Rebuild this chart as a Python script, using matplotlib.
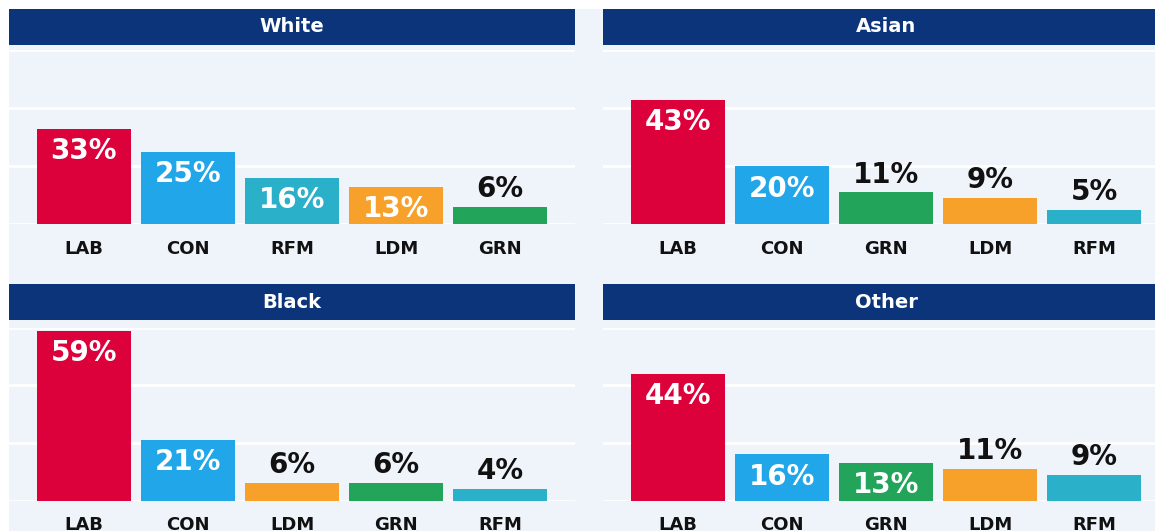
import matplotlib
matplotlib.use("Agg")
import matplotlib.pyplot as plt
from matplotlib.patches import Rectangle

# Vote share by ethnicity

white_parties = ["LAB", "CON", "RFM", "LDM", "GRN"]
white_values = [33, 25, 16, 13, 6]

asian_parties = ["LAB", "CON", "GRN", "LDM", "RFM"]
asian_values = [43, 20, 11, 9, 5]

black_parties = ["LAB", "CON", "LDM", "GRN", "RFM"]
black_values = [59, 21, 6, 6, 4]

other_parties = ["LAB", "CON", "GRN", "LDM", "RFM"]
other_values = [44, 16, 13, 11, 9]

party_colors = {
    "LAB": "#dc003b",
    "CON": "#22a6ea",
    "RFM": "#2bb0c9",
    "LDM": "#f7a12a",
    "GRN": "#22a45a",
}

NAVY = "#0c347a"
BG = "#eff4fb"
W, H = 1155, 531

plt.rcParams['font.family'] = ['DejaVu Sans']

fig = plt.figure(figsize=(W / 100, H / 100), dpi=100, facecolor=BG)

# white margins on top and left
fig.patches.append(Rectangle((0, 1 - 9 / H), 1, 9 / H, transform=fig.transFigure,
                             facecolor="white", edgecolor="none", zorder=0))
fig.patches.append(Rectangle((0, 0), 9 / W, 1, transform=fig.transFigure,
                             facecolor="white", edgecolor="none", zorder=0))


def draw_panel(x0, header_top, ax_top, ax_bottom, title, parties, values):
    width_px = 566
    # header bar
    fig.patches.append(Rectangle((x0 / W, 1 - (header_top + 36) / H), width_px / W, 36 / H,
                                 transform=fig.transFigure, facecolor=NAVY,
                                 edgecolor="none", zorder=1))
    cx = min(x0 + width_px / 2, x0 + width_px / 2)
    fig.text(cx / W, 1 - (header_top + 18) / H, title, color="white", fontsize=14,
             fontweight="bold", ha="center", va="center")

    ax = fig.add_axes([x0 / W, 1 - ax_bottom / H, width_px / W, (ax_bottom - ax_top) / H])
    ax.set_facecolor("none")
    xs = range(len(parties))
    ax.bar(xs, values, width=0.9, color=[party_colors[p] for p in parties], zorder=3)
    ax.set_xlim(-0.72, len(parties) - 0.28)
    ax.set_ylim(0, 60)
    ax.set_yticks([0, 20, 40, 60])
    ax.grid(axis="y", color="white", linewidth=2, zorder=0)
    ax.set_axisbelow(True)
    ax.tick_params(axis="y", left=False, labelleft=False)
    ax.set_xticks(list(xs))
    ax.set_xticklabels(parties, fontsize=13, fontweight="bold", color="#111111")
    ax.tick_params(axis="x", length=0, pad=11)
    for s in ax.spines.values():
        s.set_visible(False)

    for x, v in zip(xs, values):
        if v >= 12:
            ax.annotate(f"{v}%", (x, v), xytext=(0, -6), textcoords="offset points",
                        ha="center", va="top", color="white", fontsize=20,
                        fontweight="bold", zorder=4)
        else:
            ax.annotate(f"{v}%", (x, v), xytext=(0, 7), textcoords="offset points",
                        ha="center", va="baseline", color="#111111", fontsize=20,
                        fontweight="bold", zorder=4)
    return ax


draw_panel(9, 9, 50.3, 224.3, "White", white_parties, white_values)
draw_panel(603, 9, 50.3, 224.3, "Asian", asian_parties, asian_values)
draw_panel(9, 284, 327.7, 500.5, "Black", black_parties, black_values)
draw_panel(603, 284, 327.7, 500.5, "Other", other_parties, other_values)

fig.savefig("out.png", dpi=100, facecolor=BG)
